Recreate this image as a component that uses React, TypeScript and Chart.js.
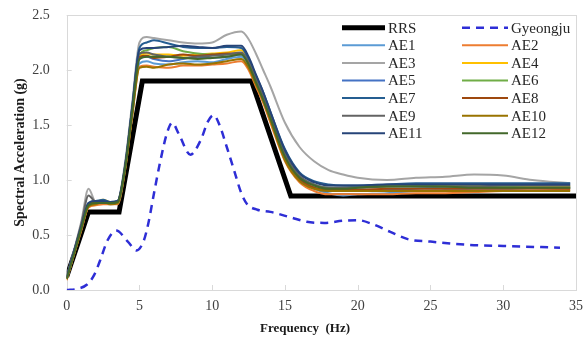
import React, { useEffect, useRef } from "react";
import { Chart, registerables } from "chart.js";

Chart.register(...registerables);

// ---------- data ----------
const FREQ = [0, 0.5, 1, 1.5, 2, 2.5, 3, 3.5, 4, 4.5, 5, 5.5, 6, 7, 8, 9, 10, 11, 12, 12.5, 13, 13.5, 14, 15, 16, 17, 18, 19, 20, 22, 24, 26, 28, 30, 32, 34.6];

const RRS_X = [0, 1.5, 3.6, 5.2, 12.7, 15.4, 35];
const RRS_Y = [0.12, 0.71, 0.71, 1.9, 1.9, 0.855, 0.855];

const GY_X = [0, 0.7, 1.4, 1.9, 2.3, 2.8, 3.4, 4.2, 4.8, 5.3, 5.6, 6, 6.4, 6.9, 7.25, 7.7, 8.5, 9.2, 9.7, 10.1, 10.5, 11, 11.5, 12, 12.4, 13.1, 14, 15.4, 16.5, 17.7, 19, 20, 21, 22.2, 23.5, 25, 27.7, 30, 33.9];
const GY_Y = [0, 0.01, 0.05, 0.14, 0.27, 0.45, 0.54, 0.44, 0.36, 0.45, 0.6, 0.88, 1.15, 1.43, 1.52, 1.42, 1.23, 1.36, 1.53, 1.59, 1.5, 1.3, 1.09, 0.88, 0.78, 0.73, 0.71, 0.66, 0.62, 0.61, 0.63, 0.635, 0.6, 0.53, 0.46, 0.44, 0.41, 0.4, 0.385];

const AE1 = [0.1, 0.33, 0.55, 0.76, 0.78, 0.79, 0.78, 0.79, 1.1, 1.6, 2.06, 2.08, 2.06, 2.05, 2.07, 2.08, 2.07, 2.1, 2.12, 2.04, 1.88, 1.72, 1.55, 1.2, 1.0, 0.92, 0.88, 0.86, 0.87, 0.88, 0.9, 0.91, 0.92, 0.92, 0.93, 0.94];
const AE2 = [0.09, 0.32, 0.54, 0.75, 0.77, 0.78, 0.78, 0.78, 1.08, 1.58, 2.03, 2.04, 2.03, 2.02, 2.04, 2.04, 2.05, 2.06, 2.08, 2.0, 1.85, 1.7, 1.52, 1.17, 0.98, 0.9, 0.87, 0.87, 0.87, 0.87, 0.88, 0.88, 0.89, 0.9, 0.9, 0.91];
const AE3 = [0.12, 0.36, 0.62, 0.92, 0.8, 0.8, 0.8, 0.81, 1.15, 1.7, 2.25, 2.3, 2.29, 2.27, 2.25, 2.24, 2.25, 2.32, 2.35, 2.28, 2.15, 2.0, 1.85, 1.52, 1.3, 1.17, 1.09, 1.05, 1.02, 1.0, 1.02, 1.03, 1.05, 1.04, 1.0, 0.97];
const AE4 = [0.1, 0.33, 0.56, 0.77, 0.8, 0.82, 0.8, 0.8, 1.1, 1.62, 2.12, 2.15, 2.14, 2.14, 2.13, 2.14, 2.15, 2.16, 2.18, 2.08, 1.9, 1.74, 1.57, 1.22, 1.02, 0.94, 0.92, 0.93, 0.93, 0.94, 0.95, 0.96, 0.95, 0.94, 0.94, 0.94];
const AE5 = [0.11, 0.34, 0.57, 0.78, 0.8, 0.8, 0.79, 0.8, 1.1, 1.63, 2.1, 2.12, 2.1, 2.08, 2.1, 2.12, 2.11, 2.12, 2.14, 2.06, 1.9, 1.74, 1.57, 1.2, 1.0, 0.93, 0.9, 0.9, 0.9, 0.91, 0.92, 0.93, 0.93, 0.93, 0.93, 0.93];
const AE6 = [0.1, 0.33, 0.56, 0.77, 0.79, 0.8, 0.79, 0.79, 1.1, 1.63, 2.14, 2.18, 2.2, 2.21, 2.17, 2.15, 2.14, 2.14, 2.15, 2.07, 1.9, 1.74, 1.57, 1.22, 1.03, 0.96, 0.93, 0.93, 0.94, 0.95, 0.95, 0.94, 0.94, 0.94, 0.93, 0.93];
const AE7 = [0.11, 0.35, 0.58, 0.79, 0.81, 0.82, 0.8, 0.81, 1.12, 1.66, 2.2, 2.25, 2.27, 2.24, 2.21, 2.2, 2.2, 2.21, 2.2, 2.1, 1.95, 1.8, 1.62, 1.28, 1.07, 0.99, 0.96, 0.95, 0.95, 0.96, 0.97, 0.97, 0.97, 0.97, 0.97, 0.97];
const AE8 = [0.1, 0.33, 0.56, 0.77, 0.8, 0.8, 0.79, 0.8, 1.1, 1.62, 2.12, 2.13, 2.11, 2.12, 2.14, 2.13, 2.14, 2.15, 2.15, 2.06, 1.9, 1.74, 1.56, 1.2, 1.01, 0.93, 0.91, 0.91, 0.91, 0.92, 0.92, 0.92, 0.92, 0.92, 0.92, 0.92];
const AE9 = [0.11, 0.35, 0.6, 0.86, 0.8, 0.8, 0.8, 0.8, 1.1, 1.64, 2.15, 2.16, 2.14, 2.12, 2.11, 2.12, 2.13, 2.14, 2.16, 2.07, 1.92, 1.76, 1.59, 1.24, 1.04, 0.96, 0.93, 0.93, 0.93, 0.94, 0.94, 0.94, 0.94, 0.95, 0.95, 0.95];
const AE10 = [0.1, 0.32, 0.55, 0.76, 0.78, 0.8, 0.78, 0.79, 1.08, 1.58, 2.02, 2.03, 2.02, 2.05, 2.06, 2.05, 2.06, 2.08, 2.1, 2.02, 1.87, 1.72, 1.54, 1.18, 0.99, 0.92, 0.9, 0.9, 0.9, 0.9, 0.9, 0.9, 0.9, 0.9, 0.9, 0.9];
const AE11 = [0.11, 0.35, 0.58, 0.79, 0.81, 0.81, 0.8, 0.81, 1.12, 1.66, 2.18, 2.2, 2.2, 2.21, 2.22, 2.21, 2.2, 2.22, 2.22, 2.12, 1.96, 1.8, 1.62, 1.27, 1.06, 0.98, 0.95, 0.95, 0.95, 0.96, 0.96, 0.96, 0.96, 0.96, 0.96, 0.96];
const AE12 = [0.1, 0.33, 0.56, 0.77, 0.79, 0.79, 0.79, 0.8, 1.1, 1.62, 2.1, 2.12, 2.12, 2.12, 2.11, 2.1, 2.11, 2.12, 2.14, 2.05, 1.89, 1.73, 1.56, 1.21, 1.02, 0.95, 0.92, 0.92, 0.93, 0.94, 0.94, 0.94, 0.93, 0.93, 0.93, 0.93];

const AE_SERIES = [AE1, AE2, AE3, AE4, AE5, AE6, AE7, AE8, AE9, AE10, AE11, AE12];
const AE_NAMES = ["AE1", "AE2", "AE3", "AE4", "AE5", "AE6", "AE7", "AE8", "AE9", "AE10", "AE11", "AE12"];
const AE_COLORS = ["#5B9BD5", "#ED7D31", "#A5A5A5", "#FFC000", "#4472C4", "#70AD47", "#255E91", "#9E480E", "#636363", "#997300", "#264478", "#43682B"];

const X_TICKS = [0, 5, 10, 15, 20, 25, 30, 35];
const Y_TICKS = [0, 0.5, 1.0, 1.5, 2.0, 2.5];
const X_TITLE = "Frequency  (Hz)";
const Y_TITLE = "Spectral Acceleration (g)";

const SERIF = '"Liberation Serif", "Times New Roman", serif';

const framePlugin = {
  id: "frame",
  beforeDatasetsDraw(chart: any) {
    const { ctx, chartArea: a, scales } = chart;
    ctx.save();
    ctx.strokeStyle = "#D9D9D9";
    ctx.lineWidth = 1;
    ctx.strokeRect(Math.round(a.left) + 0.5, Math.round(a.top) + 0.5, Math.round(a.right - a.left), Math.round(a.bottom - a.top));
    ctx.beginPath();
    for (const t of X_TICKS) {
      const x = Math.round(scales.x.getPixelForValue(t)) + 0.5;
      ctx.moveTo(x, a.bottom);
      ctx.lineTo(x, a.bottom - 5);
    }
    for (const t of Y_TICKS) {
      const y = Math.round(scales.y.getPixelForValue(t)) + 0.5;
      ctx.moveTo(a.left, y);
      ctx.lineTo(a.left + 5, y);
    }
    ctx.stroke();
    ctx.restore();
  },
  afterDraw(chart: any) {
    const { ctx, chartArea: a } = chart;
    ctx.save();
    ctx.fillStyle = "#1a1a1a";
    ctx.textAlign = "center";
    ctx.textBaseline = "middle";
    ctx.font = `bold 13px ${SERIF}`;
    ctx.fillText(X_TITLE, 305, 329);
    ctx.font = `bold 14px ${SERIF}`;
    ctx.translate(20, (a.top + a.bottom) / 2);
    ctx.rotate(-Math.PI / 2);
    ctx.fillText(Y_TITLE, 0, 0);
    ctx.restore();

    // legend, two columns
    const ds = chart.data.datasets;
    ctx.save();
    ctx.font = `15px ${SERIF}`;
    ctx.textBaseline = "middle";
    ctx.textAlign = "left";
    ds.forEach((d: any, i: number) => {
      const col = i % 2;
      const row = Math.floor(i / 2);
      const x0 = col === 0 ? 342 : 462;
      const len = col === 0 ? 43 : 46;
      const y = 27.7 + row * 17.6;
      ctx.strokeStyle = d.borderColor;
      ctx.lineWidth = d.borderWidth;
      ctx.setLineDash(d.borderDash || []);
      ctx.beginPath();
      ctx.moveTo(x0, y);
      ctx.lineTo(x0 + len, y);
      ctx.stroke();
      ctx.setLineDash([]);
      ctx.fillStyle = "#262626";
      ctx.fillText(d.label, x0 + len + 3, y + 1);
    });
    ctx.restore();
  },
};

export default function App() {
  const ref = useRef<HTMLCanvasElement | null>(null);
  useEffect(() => {
    if (!ref.current) return;
    const datasets: any[] = [
      {
        label: "RRS",
        data: RRS_X.map((x, i) => ({ x, y: RRS_Y[i] })),
        borderColor: "#000000",
        borderWidth: 5,
        order: 14,
        tension: 0,
      },
      {
        label: "Gyeongju",
        data: GY_X.map((x, i) => ({ x, y: GY_Y[i] })),
        borderColor: "#2E2ED6",
        borderWidth: 2.5,
        borderDash: [8, 6],
        cubicInterpolationMode: "monotone",
        order: 13,
      },
      ...AE_SERIES.map((s, k) => ({
        label: AE_NAMES[k],
        data: FREQ.map((x, i) => ({ x, y: s[i] })),
        borderColor: AE_COLORS[k],
        borderWidth: 2,
        cubicInterpolationMode: "monotone",
        order: 12 - k,
      })),
    ];
    const chart = new Chart(ref.current, {
      type: "line",
      data: { datasets },
      options: {
        responsive: false,
        animation: false,
        layout: { padding: { top: 15, right: 7, left: 0, bottom: 0 } },
        elements: { point: { radius: 0 }, line: { fill: false } },
        plugins: { legend: { display: false }, tooltip: { enabled: false } },
        scales: {
          x: {
            type: "linear",
            min: 0,
            max: 35,
            afterBuildTicks: (s: any) => { s.ticks = X_TICKS.map((v) => ({ value: v })); },
            ticks: { font: { size: 14, family: SERIF }, color: "#404040", padding: 8, maxRotation: 0 },
            grid: { display: false, drawTicks: false },
            border: { display: false },
            afterFit: (s: any) => { s.height = 52; s.paddingLeft = 0; s.paddingRight = 0; },
          },
          y: {
            type: "linear",
            min: 0,
            max: 2.5,
            afterBuildTicks: (s: any) => { s.ticks = Y_TICKS.map((v) => ({ value: v })); },
            ticks: { font: { size: 14, family: SERIF }, color: "#404040", padding: 17, callback: (v: any) => Number(v).toFixed(1) },
            grid: { display: false, drawTicks: false },
            border: { display: false },
            afterFit: (s: any) => { s.width = 66.7; s.paddingTop = 0; s.paddingBottom = 0; },
          },
        },
      },
      plugins: [framePlugin],
    });
    return () => chart.destroy();
  }, []);
  return (
    <div style={{ position: "absolute", left: 0, top: 0, width: 583, height: 342, background: "#fff" }}>
      <canvas ref={ref} width={583} height={342} style={{ width: 583, height: 342 }} />
    </div>
  );
}
